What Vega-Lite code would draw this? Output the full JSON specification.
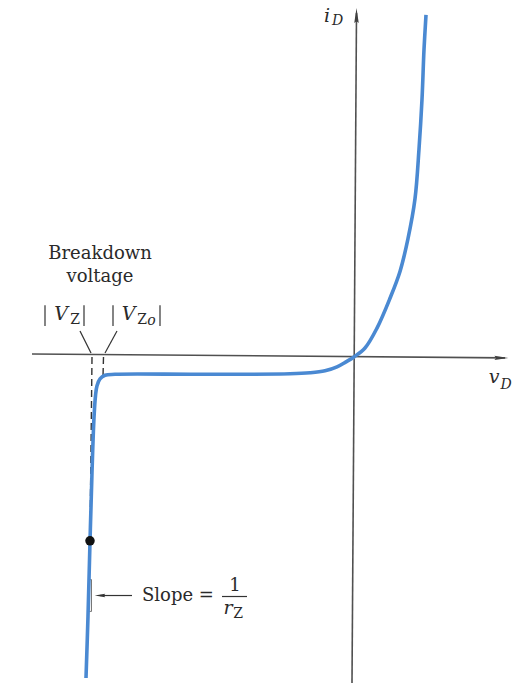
{
  "$schema": "https://vega.github.io/schema/vega-lite/v6.json",
  "width": 513,
  "height": 687,
  "autosize": {"type": "fit", "contains": "padding"},
  "padding": 0,
  "background": "white",
  "config": {"view": {"stroke": null}, "text": {"font": "DejaVu Serif"}},
  "datasets": {
    "axes": [
      {"seg": "h", "i": 0, "x": -16.1, "y": 0.15},
      {"seg": "h", "i": 1, "x": 7.55, "y": -0.05},
      {"seg": "v", "i": 0, "x": -0.1, "y": -16.4},
      {"seg": "v", "i": 1, "x": 0.125, "y": 17.3}
    ],
    "curve": [
      {"i": 0, "x": -13.4, "y": -16.15},
      {"i": 1, "x": -13.3, "y": -13.05},
      {"i": 2, "x": -13.2, "y": -9.3},
      {"i": 3, "x": -13.1, "y": -5.8},
      {"i": 4, "x": -13.0, "y": -3.05},
      {"i": 5, "x": -12.925, "y": -1.95},
      {"i": 6, "x": -12.85, "y": -1.45},
      {"i": 7, "x": -12.7, "y": -1.1},
      {"i": 8, "x": -12.45, "y": -0.925},
      {"i": 9, "x": -11.95, "y": -0.875},
      {"i": 10, "x": -7.7, "y": -0.875},
      {"i": 11, "x": -3.2, "y": -0.85},
      {"i": 12, "x": -2.2, "y": -0.8},
      {"i": 13, "x": -1.45, "y": -0.7},
      {"i": 14, "x": -0.85, "y": -0.5},
      {"i": 15, "x": -0.4, "y": -0.25},
      {"i": 16, "x": 0, "y": 0},
      {"i": 17, "x": 0.55, "y": 0.45},
      {"i": 18, "x": 1.15, "y": 1.45},
      {"i": 19, "x": 1.8, "y": 2.95},
      {"i": 20, "x": 2.3, "y": 4.3},
      {"i": 21, "x": 2.7, "y": 5.95},
      {"i": 22, "x": 3.05, "y": 7.95},
      {"i": 23, "x": 3.25, "y": 10.45},
      {"i": 24, "x": 3.4, "y": 12.95},
      {"i": 25, "x": 3.5, "y": 15.45},
      {"i": 26, "x": 3.6, "y": 17.2}
    ],
    "dashed": [
      {"seg": "vz", "i": 0, "x": -13.1, "y": 0},
      {"seg": "vz", "i": 1, "x": -13.2, "y": -9.25},
      {"seg": "vzo", "i": 0, "x": -12.525, "y": 0},
      {"seg": "vzo", "i": 1, "x": -12.55, "y": -1.0}
    ],
    "thin": [
      {"seg": "l1", "i": 0, "x": -13.7, "y": 1.3},
      {"seg": "l1", "i": 1, "x": -13.15, "y": 0.2},
      {"seg": "l2", "i": 0, "x": -11.85, "y": 1.3},
      {"seg": "l2", "i": 1, "x": -12.45, "y": 0.2},
      {"seg": "arrow", "i": 0, "x": -12.7, "y": -12},
      {"seg": "arrow", "i": 1, "x": -11.1, "y": -12},
      {"seg": "frac", "i": 0, "x": -6.6, "y": -12.05},
      {"seg": "frac", "i": 1, "x": -5.35, "y": -12.05},
      {"seg": "b1", "i": 0, "x": -15.45, "y": 2.6},
      {"seg": "b1", "i": 1, "x": -15.45, "y": 1.55},
      {"seg": "b2", "i": 0, "x": -13.5, "y": 2.6},
      {"seg": "b2", "i": 1, "x": -13.5, "y": 1.55},
      {"seg": "b3", "i": 0, "x": -12.05, "y": 2.6},
      {"seg": "b3", "i": 1, "x": -12.05, "y": 1.55},
      {"seg": "b4", "i": 0, "x": -9.7, "y": 2.6},
      {"seg": "b4", "i": 1, "x": -9.7, "y": 1.55}
    ],
    "roman": [
      {"t": "Breakdown", "x": -12.7, "y": 5.2},
      {"t": "voltage", "x": -12.7, "y": 4.0},
      {"t": "1", "x": -5.95, "y": -11.5}
    ],
    "italic": [
      {"t": "V", "x": -14.65, "y": 2.15},
      {"t": "V", "x": -11.275, "y": 2.15},
      {"t": "r", "x": -6.3, "y": -12.65},
      {"t": "i", "x": -1.35, "y": 17.15},
      {"t": "v", "x": 7.0, "y": -1.0}
    ],
    "subroman": [
      {"t": "Z", "x": -13.95, "y": 1.85},
      {"t": "Z", "x": -10.6, "y": 1.85},
      {"t": "Z", "x": -5.8, "y": -12.95}
    ],
    "subitalic": [
      {"t": "o", "x": -10.125, "y": 1.8},
      {"t": "D", "x": -0.825, "y": 16.9},
      {"t": "D", "x": 7.6, "y": -1.4}
    ]
  },
  "encoding": {
    "x": {"field": "x", "type": "quantitative", "scale": {"domain": [-17.7, 7.95], "nice": false, "zero": false}, "axis": null},
    "y": {"field": "y", "type": "quantitative", "scale": {"domain": [-16.4, 17.95], "nice": false, "zero": false}, "axis": null}
  },
  "layer": [
    {
      "data": {"name": "axes"},
      "mark": {"type": "line", "color": "#505050", "strokeWidth": 1.6},
      "encoding": {"detail": {"field": "seg"}, "order": {"field": "i"}}
    },
    {
      "data": {"values": [{"x": 0.125, "y": 17.17}]},
      "mark": {"type": "point", "shape": "M0,-1L0.3,1L0,0.75L-0.3,1Z", "size": 225, "filled": true, "color": "#404040", "opacity": 1}
    },
    {
      "data": {"values": [{"x": 7.37, "y": -0.05}]},
      "mark": {"type": "point", "shape": "M1,0L-1,0.3L-0.75,0L-1,-0.3Z", "size": 196, "filled": true, "color": "#404040", "opacity": 1}
    },
    {
      "data": {"name": "dashed"},
      "mark": {"type": "line", "color": "#333333", "strokeWidth": 1.4, "strokeDash": [7, 4]},
      "encoding": {"detail": {"field": "seg"}, "order": {"field": "i"}}
    },
    {
      "data": {"name": "thin"},
      "mark": {"type": "line", "color": "#333333", "strokeWidth": 1.2},
      "encoding": {"detail": {"field": "seg"}, "order": {"field": "i"}}
    },
    {
      "data": {"values": [{"x": -13.275, "x2": -13.125, "y": -11.2, "y2": -12.8}]},
      "mark": {"type": "rect", "fill": "#f4f4f4", "stroke": "#555555", "strokeWidth": 0.8},
      "encoding": {"x2": {"field": "x2"}, "y2": {"field": "y2"}}
    },
    {
      "data": {"name": "curve"},
      "mark": {"type": "line", "color": "#4a89d2", "strokeWidth": 3.6, "interpolate": "catmull-rom", "strokeCap": "butt"},
      "encoding": {"order": {"field": "i"}}
    },
    {
      "data": {"values": [{"x": -13.2, "y": -9.25}]},
      "mark": {"type": "point", "shape": "circle", "size": 90, "filled": true, "color": "#111111", "opacity": 1}
    },
    {
      "data": {"values": [{"x": -12.7, "y": -12}]},
      "mark": {"type": "point", "shape": "M-1,0L1,0.35L0.75,0L1,-0.35Z", "size": 110, "filled": true, "color": "#333333", "opacity": 1}
    },
    {
      "data": {"values": [{"t": "Slope =", "x": -10.6, "y": -12}]},
      "mark": {"type": "text", "fontSize": 18, "align": "left", "baseline": "middle", "color": "#2a2a2a"},
      "encoding": {"text": {"field": "t"}}
    },
    {
      "data": {"name": "roman"},
      "mark": {"type": "text", "fontSize": 18, "align": "center", "baseline": "middle", "color": "#2a2a2a"},
      "encoding": {"text": {"field": "t"}}
    },
    {
      "data": {"name": "italic"},
      "mark": {"type": "text", "fontStyle": "italic", "fontSize": 19, "align": "center", "baseline": "middle", "color": "#2a2a2a"},
      "encoding": {"text": {"field": "t"}}
    },
    {
      "data": {"name": "subroman"},
      "mark": {"type": "text", "fontSize": 14, "align": "center", "baseline": "middle", "color": "#2a2a2a"},
      "encoding": {"text": {"field": "t"}}
    },
    {
      "data": {"name": "subitalic"},
      "mark": {"type": "text", "fontStyle": "italic", "fontSize": 14, "align": "center", "baseline": "middle", "color": "#2a2a2a"},
      "encoding": {"text": {"field": "t"}}
    }
  ]
}
